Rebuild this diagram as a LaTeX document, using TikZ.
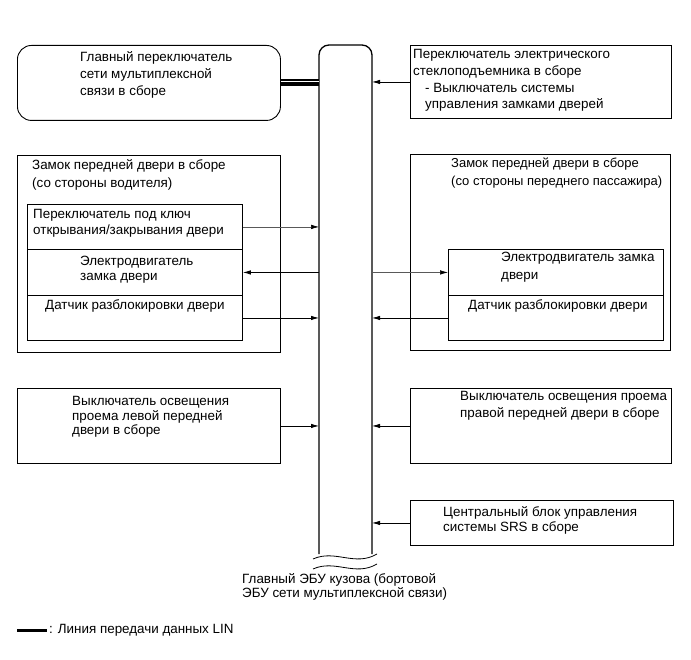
\documentclass[tikz,border=0pt]{standalone}
\usepackage{fontspec}
\setmainfont{Liberation Sans}
\usetikzlibrary{arrows.meta}
\begin{document}
\begin{tikzpicture}[x=1pt,y=-1pt,
  box/.style={draw,line width=0.9pt,inner sep=0,anchor=north west},
  txt/.style={inner sep=0,anchor=north west,align=left,font=\fontsize{13.4}{#1}\selectfont},
  txt/.default=16.5,
  sig/.style={line width=0.8pt,-{Latex[length=8pt,width=4.5pt]}},
  sigg/.style={line width=0.6pt,draw=black!65,-{Latex[length=8pt,width=4.5pt,color=black]}},
  lin/.style={line width=7pt},
  linw/.style={white,line width=1pt},
  wave/.style={line width=0.8pt}
]
\useasboundingbox (0,0) rectangle (691,660);

% ECU bus bar
\draw[line width=1.3pt,rounded corners=10pt] (319,554) -- (319,45) -- (372,45) -- (372,554);
\coordinate (busL) at (319,300);
\coordinate (busR) at (372,300);
\draw[wave] (313,559) .. controls (335,549) and (355,567) .. (377,554);
\draw[wave] (313,569) .. controls (335,559) and (355,577) .. (377,564);
\node[txt=14] (ecu) at (242,573) {Главный ЭБУ кузова (бортовой\\ЭБУ сети мультиплексной связи)};

% multiplex main switch
\node[box,rounded corners=14pt,minimum width=263pt,minimum height=75pt] (mpx) at (17,45) {};
\node[txt=17] (mpxt) at (80,51) {Главный переключатель\\сети мультиплексной\\связи в сборе};
\draw[lin] (mpx.east) -- (mpx.east -| busL);
\draw[linw] ([yshift=1.6pt]mpx.east) -- ([yshift=1.6pt]mpx.east -| busL);

% power window switch
\node[box,minimum width=261pt,minimum height=73pt] (pws) at (410,45) {};
\node[txt=16.8] (pwst) at (413,49) {Переключатель электрического\\стеклоподъемника в сборе\\\hspace*{12pt}- Выключатель системы\\\hspace*{12pt}управления замками дверей};
\draw[sig] (pws.west) -- (pws.west -| busR);

% left door lock
\node[box,minimum width=263pt,minimum height=197pt] (ldl) at (17,155) {};
\node[txt=18] (ldlt) at (32,159) {Замок передней двери в сборе\\(со стороны водителя)};
\node[box,minimum width=215pt,minimum height=45pt] (lr1) at (27,204) {};
\node[box,minimum width=215pt,minimum height=46pt] (lr2) at (27,249) {};
\node[box,minimum width=215pt,minimum height=45pt] (lr3) at (27,295) {};
\node[txt=15.7] (lr1t) at (33,209) {Переключатель под ключ\\открывания/закрывания двери};
\node[txt=15.2] (lr2t) at (80,256) {Электродвигатель\\замка двери};
\node[txt] (lr3t) at (45,299) {Датчик разблокировки двери};
\draw[sigg] (lr1.east) -- (lr1.east -| busL);
\draw[sig] (lr2.east -| busL) -- (lr2.east);
\draw[sig] (lr3.east) -- (lr3.east -| busL);

% right door lock
\node[box,minimum width=260pt,minimum height=196pt] (rdl) at (410,154) {};
\node[txt,font=\fontsize{13}{17.7}\selectfont] (rdlt) at (451,158) {Замок передней двери в сборе\\(со стороны переднего пассажира)};
\node[box,minimum width=215pt,minimum height=46pt] (rr2) at (448,249) {};
\node[box,minimum width=215pt,minimum height=45pt] (rr3) at (448,295) {};
\node[txt=17.7] (rr2t) at (501,252) {Электродвигатель замка\\двери};
\node[txt] (rr3t) at (468,299) {Датчик разблокировки двери};
\draw[sigg] (rr2.west -| busR) -- (rr2.west);
\draw[sig] (rr3.west) -- (rr3.west -| busR);

% courtesy light switches
\node[box,minimum width=263pt,minimum height=75pt] (lls) at (17,388) {};
\node[txt=14.6] (llst) at (72,396) {Выключатель освещения\\проема левой передней\\двери в сборе};
\draw[sig] (lls.east) -- (lls.east -| busL);
\node[box,minimum width=261pt,minimum height=75pt] (rls) at (410,388) {};
\node[txt=16.7] (rlst) at (460,391) {Выключатель освещения проема\\правой передней двери в сборе};
\draw[sig] (rls.west) -- (rls.west -| busR);

% SRS
\node[box,minimum width=263pt,minimum height=45pt] (srs) at (410,500) {};
\node[txt=15] (srst) at (443,506) {Центральный блок управления\\системы SRS в сборе};
\draw[sig] (srs.west) -- (srs.west -| busR);

% legend
\coordinate (lg1) at (17,630);
\coordinate (lg2) at (47,630);
\draw[line width=4.5pt] (lg1) -- (lg2);
\draw[white,line width=0.7pt] ([yshift=1.2pt]lg1) -- ([yshift=1.2pt]lg2);
\node[txt,anchor=west] (lgt) at (49,630) {: Линия передачи данных LIN};
\end{tikzpicture}
\end{document}
